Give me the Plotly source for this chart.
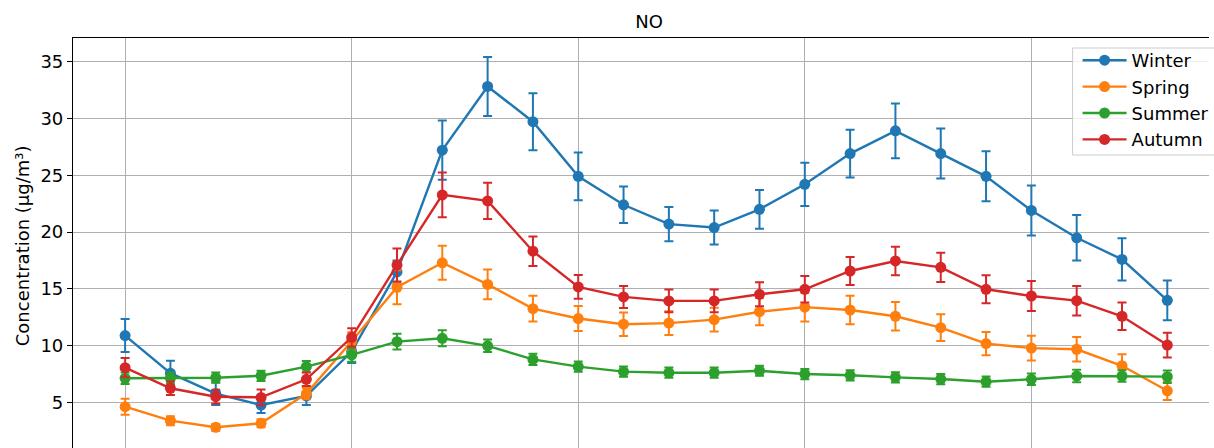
import plotly.graph_objects as go

hours = list(range(24))
season_names = ["Winter", "Spring", "Summer", "Autumn"]
season_colors = ["#1f77b4", "#ff7f0e", "#2ca02c", "#d62728"]

winter = [10.9, 7.6, 5.8, 4.8, 5.6, 9.5, 16.5, 27.2, 32.8, 29.7, 24.9, 22.4,
          20.7, 20.4, 22.0, 24.2, 26.9, 28.9, 26.9, 24.9, 21.9, 19.5, 17.6, 14.0]
winter_err = [1.45, 1.1, 1.0, 0.7, 0.8, 1.0, 1.0, 2.6, 2.6, 2.5, 2.1, 1.6,
              1.5, 1.5, 1.7, 1.9, 2.1, 2.4, 2.2, 2.2, 2.2, 2.0, 1.85, 1.75]

spring = [4.65, 3.42, 2.84, 3.19, 5.8, 10.4, 15.15, 17.3, 15.4, 13.27, 12.4, 11.9,
          12.0, 12.3, 13.0, 13.4, 13.15, 12.6, 11.6, 10.2, 9.8, 9.7, 8.25, 6.05]
spring_err = [0.7, 0.4, 0.3, 0.35, 0.5, 0.8, 1.5, 1.5, 1.3, 1.14, 1.1, 1.03,
              1.05, 1.05, 1.2, 1.27, 1.26, 1.25, 1.17, 1.02, 1.09, 1.08, 1.0, 0.8]

summer = [7.15, 7.15, 7.2, 7.37, 8.17, 9.2, 10.37, 10.66, 10.0, 8.81, 8.17, 7.73,
          7.64, 7.64, 7.81, 7.52, 7.41, 7.23, 7.08, 6.85, 7.06, 7.35, 7.35, 7.29]
summer_err = [0.5, 0.5, 0.45, 0.45, 0.5, 0.6, 0.7, 0.7, 0.55, 0.5, 0.45, 0.45,
              0.45, 0.45, 0.45, 0.45, 0.45, 0.45, 0.45, 0.45, 0.5, 0.55, 0.5, 0.55]

autumn = [8.08, 6.27, 5.53, 5.47, 7.06, 10.75, 17.1, 23.27, 22.74, 18.32, 15.18, 14.3,
          13.95, 13.95, 14.53, 14.97, 16.58, 17.46, 16.9, 14.97, 14.38, 13.97, 12.6, 10.07]
autumn_err = [0.85, 0.6, 0.6, 0.7, 0.6, 0.8, 1.45, 1.96, 1.6, 1.3, 1.05, 0.97,
              1.0, 1.0, 1.05, 1.17, 1.23, 1.26, 1.29, 1.23, 1.32, 1.3, 1.2, 1.09]

y_ticks = [5, 10, 15, 20, 25, 30, 35]
title_text = "NO"
y_label = "Concentration (µg/m³)"

series = [winter, spring, summer, autumn]
errors = [winter_err, spring_err, summer_err, autumn_err]

FONT = "DejaVu Sans"
FS = 18

fig = go.Figure()
for name, col, vals, errs in zip(season_names, season_colors, series, errors):
    fig.add_trace(go.Scatter(
        x=hours, y=vals, name=name, mode="lines+markers",
        line=dict(color=col, width=2.4),
        marker=dict(color=col, size=11),
        error_y=dict(type="data", array=errs, visible=True,
                     color=col, thickness=2, width=4.5),
    ))

# legend frame (right side runs off the cropped picture, as in the original)
fig.add_shape(type="rect", xref="paper", yref="paper",
              x0=(1077 - 73) / 1141, x1=1.01,
              y0=(448 - 155) / 410, y1=(448 - 48) / 410,
              fillcolor="rgba(255,255,255,0.8)",
              line=dict(color="#cccccc", width=1), layer="above")

# y-axis label
fig.add_annotation(text=y_label, xref="paper", yref="paper",
                   x=(22 - 73) / 1141, y=(448 - 246) / 410,
                   xanchor="center", yanchor="middle", textangle=-90,
                   showarrow=False,
                   font=dict(family=FONT, size=FS, color="black"))

fig.update_layout(
    width=1214, height=448, autosize=False,
    margin=dict(l=73, r=0, t=38, b=0),
    paper_bgcolor="white", plot_bgcolor="white",
    font=dict(family=FONT, size=FS, color="black"),
    title=dict(text=title_text, x=649 / 1214, xref="container", xanchor="center",
               y=1 - 22 / 448, yref="container", yanchor="middle",
               font=dict(family=FONT, size=FS, color="black")),
    legend=dict(x=(1082 - 73) / 1141, xanchor="left", y=1 - 4 / 410, yanchor="top",
                bgcolor="rgba(0,0,0,0)", borderwidth=0,
                font=dict(family=FONT, size=FS, color="black"),
                itemwidth=44, tracegroupgap=0),
    showlegend=True,
)

fig.update_xaxes(
    range=[-1.15, 23.92], tick0=0, dtick=5, showgrid=True,
    gridcolor="#b0b0b0", gridwidth=1, zeroline=False,
    showticklabels=False, ticks="", side="top",
    showline=True, linecolor="black", linewidth=1.2,
)
fig.update_yaxes(
    range=[1.02, 37.06], tickvals=y_ticks, showgrid=True,
    gridcolor="#b0b0b0", gridwidth=1, zeroline=False,
    ticks="outside", ticklen=5, tickcolor="black", tickwidth=1,
    ticklabelstandoff=0,
    showline=True, linecolor="black", linewidth=1.2,
    tickfont=dict(family=FONT, size=FS, color="black"),
)

fig.write_html(
    "out.html",
    config={"displayModeBar": False, "responsive": False},
    post_script="document.body.style.margin='0';document.body.style.overflow='hidden';",
)
